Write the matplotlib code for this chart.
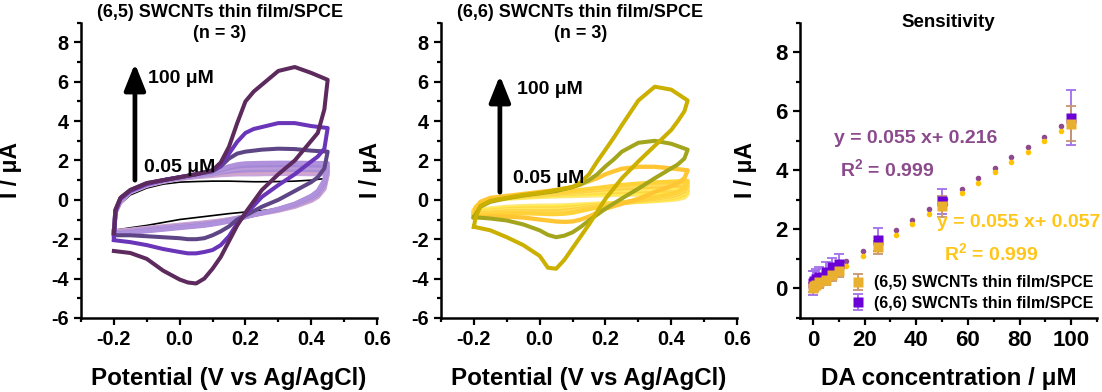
import numpy as np
import matplotlib
matplotlib.use("Agg")
import matplotlib.pyplot as plt
from matplotlib.ticker import MultipleLocator

plt.rcParams['font.family'] = ['Liberation Sans', 'DejaVu Sans']
plt.rcParams['font.weight'] = 'bold'
plt.rcParams['mathtext.fontset'] = 'custom'
plt.rcParams['mathtext.rm'] = 'Liberation Sans:bold'
plt.rcParams['mathtext.default'] = 'rm'

# potential scan: forward -0.2 -> 0.45 V, then back to -0.2 V
E_SCAN = [-0.2, -0.195, -0.18, -0.15, -0.1, -0.05, 0.0, 0.05, 0.1, 0.125, 0.15, 0.175, 0.2, 0.225, 0.25, 0.3, 0.35, 0.4, 0.45,
          0.45, 0.44, 0.42, 0.4, 0.35, 0.3, 0.25, 0.2, 0.175, 0.15, 0.125, 0.1, 0.075, 0.05, 0.025, 0.0, -0.05, -0.1, -0.15, -0.2]

# (6,5) SWCNTs, current in uA
i65_005 = [-1.55, -0.8, -0.2, 0.25, 0.6, 0.8, 0.9, 0.93, 0.95, 0.95, 0.95, 0.94, 0.93, 0.92, 0.92, 0.93, 0.95, 1.0, 1.1,
           1.1, 0.6, 0.2, 0.0, -0.3, -0.45, -0.55, -0.62, -0.66, -0.7, -0.75, -0.8, -0.85, -0.9, -0.95, -1.0, -1.15, -1.3, -1.42, -1.55]
i65_05 = [-1.60, -0.65, -0.10, 0.38, 0.72, 0.92, 1.06, 1.16, 1.22, 1.26, 1.28, 1.30, 1.30, 1.30, 1.31, 1.32, 1.32, 1.31, 1.30,
          1.30, 0.55, 0.15, -0.05, -0.35, -0.55, -0.70, -0.85, -0.92, -0.99, -1.05, -1.10, -1.15, -1.19, -1.23, -1.27, -1.35, -1.43, -1.52, -1.60]
i65_1 = [-1.62, -0.62, -0.08, 0.40, 0.74, 0.94, 1.08, 1.18, 1.26, 1.32, 1.36, 1.39, 1.40, 1.41, 1.42, 1.43, 1.43, 1.42, 1.40,
         1.40, 0.62, 0.20, 0.0, -0.32, -0.52, -0.68, -0.84, -0.92, -1.00, -1.07, -1.13, -1.18, -1.22, -1.26, -1.30, -1.38, -1.46, -1.55, -1.62]
i65_25 = [-1.64, -0.60, -0.06, 0.42, 0.76, 0.96, 1.10, 1.20, 1.30, 1.38, 1.44, 1.48, 1.50, 1.51, 1.52, 1.53, 1.53, 1.52, 1.50,
          1.50, 0.70, 0.25, 0.05, -0.28, -0.50, -0.67, -0.84, -0.93, -1.02, -1.10, -1.16, -1.21, -1.25, -1.29, -1.33, -1.41, -1.49, -1.58, -1.66]
i65_5 = [-1.66, -0.58, -0.04, 0.43, 0.77, 0.97, 1.11, 1.22, 1.34, 1.44, 1.53, 1.59, 1.62, 1.63, 1.64, 1.65, 1.65, 1.64, 1.62,
         1.62, 0.80, 0.32, 0.10, -0.25, -0.48, -0.66, -0.84, -0.94, -1.04, -1.12, -1.19, -1.24, -1.28, -1.32, -1.36, -1.44, -1.52, -1.61, -1.68]
i65_75 = [-1.68, -0.56, -0.02, 0.44, 0.78, 0.98, 1.12, 1.24, 1.38, 1.50, 1.62, 1.70, 1.74, 1.75, 1.76, 1.77, 1.77, 1.76, 1.74,
          1.74, 0.90, 0.38, 0.15, -0.22, -0.47, -0.66, -0.86, -0.97, -1.07, -1.15, -1.22, -1.28, -1.32, -1.36, -1.40, -1.48, -1.56, -1.65, -1.72]
i65_10 = [-1.70, -0.54, 0.0, 0.45, 0.79, 0.99, 1.13, 1.26, 1.42, 1.56, 1.70, 1.80, 1.85, 1.86, 1.87, 1.88, 1.88, 1.87, 1.86,
          1.86, 1.00, 0.45, 0.20, -0.20, -0.46, -0.67, -0.88, -0.99, -1.10, -1.18, -1.25, -1.31, -1.35, -1.39, -1.43, -1.51, -1.59, -1.68, -1.76]
i65_25uM = [-1.9, -0.5, 0.1, 0.5, 0.85, 1.0, 1.15, 1.3, 1.45, 1.7, 2.1, 2.35, 2.45, 2.5, 2.55, 2.6, 2.58, 2.5, 2.45,
            2.45, 1.6, 1.15, 0.9, 0.45, 0.0, -0.35, -0.8, -1.0, -1.35, -1.6, -1.8, -1.95, -2.0, -2.0, -1.95, -1.9, -1.85, -1.8, -1.8]
i65_50uM = [-2.0, -0.6, 0.05, 0.45, 0.8, 1.0, 1.15, 1.3, 1.5, 1.75, 2.35, 2.95, 3.4, 3.6, 3.7, 3.9, 3.9, 3.75, 3.65,
            3.65, 2.6, 2.2, 1.95, 1.3, 0.75, 0.15, -0.75, -1.2, -1.85, -2.3, -2.55, -2.65, -2.72, -2.72, -2.65, -2.5, -2.3, -2.15, -2.05]
i65_100uM = [-1.7, -0.5, 0.1, 0.5, 0.85, 1.0, 1.15, 1.3, 1.5, 1.9, 2.7, 3.9, 5.0, 5.5, 5.85, 6.55, 6.75, 6.45, 6.1,
             6.1, 4.6, 3.4, 3.0, 2.0, 1.3, 0.5, -0.65, -1.3, -2.1, -2.9, -3.5, -4.0, -4.25, -4.2, -4.05, -3.6, -3.0, -2.7, -2.6]

# (6,6) SWCNTs, current in uA
i66_005 = [-0.55, -0.35, -0.15, -0.02, 0.06, 0.11, 0.15, 0.18, 0.20, 0.21, 0.22, 0.23, 0.24, 0.25, 0.26, 0.27, 0.28, 0.29, 0.30,
           0.30, 0.12, 0.04, 0.0, -0.06, -0.10, -0.14, -0.18, -0.20, -0.22, -0.24, -0.26, -0.28, -0.29, -0.30, -0.30, -0.32, -0.36, -0.44, -0.55]
i66_05 = [-0.60, -0.38, -0.15, -0.01, 0.08, 0.14, 0.19, 0.23, 0.26, 0.28, 0.29, 0.30, 0.31, 0.32, 0.33, 0.35, 0.37, 0.39, 0.40,
          0.40, 0.20, 0.10, 0.05, -0.03, -0.09, -0.15, -0.20, -0.23, -0.26, -0.29, -0.32, -0.34, -0.36, -0.37, -0.37, -0.39, -0.43, -0.50, -0.60]
i66_1 = [-0.64, -0.40, -0.15, 0.0, 0.10, 0.17, 0.22, 0.27, 0.31, 0.33, 0.35, 0.37, 0.38, 0.40, 0.41, 0.44, 0.46, 0.48, 0.50,
         0.50, 0.27, 0.15, 0.09, 0.0, -0.07, -0.15, -0.22, -0.26, -0.30, -0.34, -0.38, -0.41, -0.43, -0.44, -0.44, -0.45, -0.48, -0.55, -0.64]
i66_25 = [-0.68, -0.42, -0.15, 0.01, 0.12, 0.19, 0.25, 0.30, 0.35, 0.38, 0.41, 0.44, 0.46, 0.48, 0.50, 0.54, 0.57, 0.60, 0.62,
          0.62, 0.35, 0.21, 0.14, 0.03, -0.06, -0.15, -0.25, -0.30, -0.35, -0.40, -0.45, -0.49, -0.51, -0.52, -0.52, -0.52, -0.54, -0.60, -0.68]
i66_5 = [-0.72, -0.44, -0.15, 0.02, 0.14, 0.21, 0.27, 0.33, 0.39, 0.43, 0.47, 0.51, 0.54, 0.57, 0.60, 0.64, 0.68, 0.72, 0.74,
         0.74, 0.44, 0.28, 0.19, 0.07, -0.04, -0.15, -0.27, -0.33, -0.39, -0.45, -0.51, -0.56, -0.59, -0.60, -0.60, -0.59, -0.60, -0.65, -0.72]
i66_75 = [-0.76, -0.45, -0.15, 0.03, 0.15, 0.23, 0.29, 0.35, 0.42, 0.47, 0.52, 0.56, 0.60, 0.64, 0.68, 0.73, 0.78, 0.82, 0.85,
          0.85, 0.52, 0.34, 0.24, 0.10, -0.02, -0.15, -0.29, -0.36, -0.43, -0.50, -0.57, -0.63, -0.66, -0.67, -0.66, -0.64, -0.64, -0.69, -0.76]
i66_10 = [-0.80, -0.45, -0.15, 0.05, 0.17, 0.25, 0.32, 0.38, 0.45, 0.50, 0.55, 0.60, 0.65, 0.70, 0.75, 0.82, 0.88, 0.92, 0.95,
          0.95, 0.60, 0.40, 0.30, 0.12, -0.02, -0.15, -0.30, -0.38, -0.47, -0.56, -0.65, -0.70, -0.72, -0.72, -0.70, -0.68, -0.68, -0.72, -0.80]
i66_25uM = [-0.9, -0.5, -0.1, 0.1, 0.2, 0.3, 0.4, 0.5, 0.65, 0.78, 0.95, 1.1, 1.3, 1.45, 1.58, 1.68, 1.68, 1.6, 1.5,
            1.5, 1.1, 0.85, 0.7, 0.4, 0.05, -0.2, -0.45, -0.65, -0.85, -1.0, -1.1, -1.12, -1.1, -1.05, -1.0, -0.9, -0.85, -0.85, -0.9]
i66_50uM = [-0.88, -0.75, -0.35, -0.1, 0.08, 0.22, 0.33, 0.45, 0.65, 0.8, 1.0, 1.3, 1.7, 2.05, 2.45, 2.9, 3.0, 2.85, 2.55,
            2.55, 2.1, 1.8, 1.6, 1.1, 0.57, 0.07, -0.45, -0.75, -1.05, -1.37, -1.65, -1.82, -1.9, -1.78, -1.55, -1.25, -1.05, -0.95, -0.88]
i66_100uM = [-1.37, -0.9, -0.3, -0.05, 0.1, 0.25, 0.35, 0.5, 0.65, 0.9, 1.3, 1.95, 2.55, 3.15, 3.8, 5.05, 5.75, 5.6, 5.05,
             5.05, 4.5, 4.0, 3.55, 2.75, 1.95, 1.1, 0.05, -0.6, -1.25, -1.85, -2.45, -3.05, -3.5, -3.45, -2.85, -2.3, -1.9, -1.55, -1.37]

# sensitivity data
conc = [0.05, 0.5, 1, 2.5, 5, 7.5, 10, 25, 50, 100]
peak65 = [0.03, 0.08, 0.12, 0.2, 0.3, 0.44, 0.6, 1.4, 2.78, 5.58]
err65 = [0.15, 0.15, 0.15, 0.18, 0.2, 0.2, 0.22, 0.22, 0.35, 0.6]
peak66 = [0.18, 0.25, 0.32, 0.4, 0.55, 0.72, 0.84, 1.65, 2.95, 5.78]
err66 = [0.4, 0.35, 0.35, 0.34, 0.34, 0.31, 0.34, 0.38, 0.43, 0.93]
fit_x = [0, 6.4, 12.8, 19.2, 25.6, 32, 38.4, 44.8, 51.2, 57.6, 64, 70.4, 76.8, 83.2, 89.6, 96]
fit_purple = [0.22, 0.57, 0.92, 1.27, 1.62, 1.98, 2.33, 2.68, 3.03, 3.38, 3.74, 4.09, 4.44, 4.79, 5.14, 5.50]
fit_yellow = [0.06, 0.41, 0.76, 1.11, 1.45, 1.82, 2.17, 2.52, 2.87, 3.22, 3.58, 3.93, 4.28, 4.63, 4.98, 5.34]

fig = plt.figure(figsize=(11.02, 3.92), dpi=100)
ax1 = fig.add_axes([0.0735, 0.189, 0.2686, 0.753])
ax2 = fig.add_axes([0.4002, 0.189, 0.2686, 0.753])
ax3 = fig.add_axes([0.7260, 0.189, 0.2695, 0.753])


def style(ax, fs):
    for s in ['top', 'right']:
        ax.spines[s].set_visible(False)
    for s in ['left', 'bottom']:
        ax.spines[s].set_linewidth(1.8)
    ax.tick_params(which='major', direction='out', length=5, width=1.6, labelsize=fs, pad=4)
    ax.tick_params(which='minor', direction='out', length=3, width=1.6)
    for lab in ax.get_xticklabels() + ax.get_yticklabels():
        lab.set_fontweight('bold')


light65 = [i65_05, i65_1, i65_25, i65_5, i65_75, i65_10]
light65_c = ['#c9a6dc', '#d6a4c6', '#a98fd8', '#bb9bdb', '#a488d6', '#b091dc']
light66 = [i66_005, i66_05, i66_1, i66_25, i66_5, i66_75, i66_10]
light66_c = ['#ffe680', '#fff04a', '#ffd84a', '#ffe85c', '#ffcf40', '#ffdb58', '#ffd23a']

# blank-like 0.05 uM trace sits underneath the light band
ax1.plot(E_SCAN, i65_005, color='k', lw=1.2)

for ax, light, lc in [(ax1, light65, light65_c), (ax2, light66, light66_c)]:
    for cur, c in zip(light, lc):
        ax.plot(E_SCAN, cur, color=c, lw=3.2, solid_joinstyle='round')

ax1.plot(E_SCAN, i65_25uM, color='#5e4686', lw=2.9, solid_joinstyle='round')
ax1.plot(E_SCAN, i65_50uM, color='#6a35b8', lw=2.9, solid_joinstyle='round')
ax1.plot(E_SCAN, i65_100uM, color='#5d2a5e', lw=2.9, solid_joinstyle='round')

ax2.plot(E_SCAN, i66_25uM, color='#ffc533', lw=3.1, solid_joinstyle='round')
ax2.plot(E_SCAN, i66_50uM, color='#a3a51c', lw=2.9, solid_joinstyle='round')
ax2.plot(E_SCAN, i66_100uM, color='#cbb000', lw=2.9, solid_joinstyle='round')

titles = ['(6,5) SWCNTs thin film/SPCE\n(n = 3)', '(6,6) SWCNTs thin film/SPCE\n(n = 3)']
arrows = [(-0.136, 1.0, 6.93, -0.096, 6.17, 1.65), (-0.121, 0.39, 6.32, -0.069, 5.6, 1.09)]
for ax, t, (ax_x, y0, y1, tx, ty_hi, ty_lo) in zip([ax1, ax2], titles, arrows):
    ax.set_xlim(-0.3, 0.6)
    ax.set_ylim(-6, 9)
    ax.set_xticks([-0.2, 0.0, 0.2, 0.4, 0.6])
    ax.set_xticklabels(['-0.2', '0.0', '0.2', '0.4', '0.6'])
    ax.xaxis.set_minor_locator(MultipleLocator(0.1))
    ax.set_yticks([-6, -4, -2, 0, 2, 4, 6, 8])
    ax.set_yticklabels(['-6', '-4', '-2', '0', '2', '4', '6', '8'])
    ax.yaxis.set_minor_locator(MultipleLocator(1))
    style(ax, 14.3)
    ax.set_xlabel('Potential (V vs Ag/AgCl)', fontsize=17.4, fontweight='bold')
    ax.set_ylabel('I / μA', fontsize=16.5, fontweight='bold')
    ax.xaxis.set_label_coords(0.5, -0.165)
    ax.yaxis.set_label_coords(-0.2, 0.5)
    ax.text(0.47, 1.0, t, transform=ax.transAxes, ha='center', va='center',
            fontsize=13, fontweight='bold', linespacing=1.3)
    ax.annotate('', xy=(ax_x, y1), xytext=(ax_x, y0),
                arrowprops=dict(arrowstyle='-|>,head_length=0.8,head_width=0.32', lw=3.4,
                                color='k', mutation_scale=20, shrinkA=0, shrinkB=0))
    ax.text(tx, ty_hi, '100 μM', fontsize=14, fontweight='bold', va='center', ha='left')
    ax.text(tx - 0.012, ty_lo, '0.05 μM', fontsize=14, fontweight='bold', va='center', ha='left')

# sensitivity panel
ax3.plot(fit_x, fit_purple, 'o', color='#8e4a8e', ms=4, mec='none')
ax3.plot(fit_x, fit_yellow, 'o', color='#ffc400', ms=4, mec='none')
ax3.errorbar(conc, peak66, yerr=err66, fmt='s', color='#6a00d6', ms=6.5, mec='none',
             ecolor='#a070e8', elinewidth=1.3, capsize=3.5, capthick=1.3,
             label='(6,6) SWCNTs thin film/SPCE')
ax3.errorbar(conc, peak65, yerr=err65, fmt='s', color='#e9b030', ms=6.5, mec='none',
             ecolor='#c9956e', elinewidth=1.3, capsize=3.5, capthick=1.3,
             label='(6,5) SWCNTs thin film/SPCE')
ax3.set_xlim(-5, 110)
ax3.set_ylim(-1, 9)
ax3.set_xticks([0, 20, 40, 60, 80, 100])
ax3.xaxis.set_minor_locator(MultipleLocator(10))
ax3.set_yticks([0, 2, 4, 6, 8])
ax3.yaxis.set_minor_locator(MultipleLocator(1))
style(ax3, 16)
ax3.set_xlabel('DA concentration / μM', fontsize=17.4, fontweight='bold')
ax3.set_ylabel('I / μA', fontsize=16.5, fontweight='bold')
ax3.xaxis.set_label_coords(0.5, -0.165)
ax3.yaxis.set_label_coords(-0.145, 0.5)
ax3.text(0.5, 1.0, 'Sensitivity', transform=ax3.transAxes, ha='center', va='center',
         fontsize=13.5, fontweight='bold')
ax3.text(39.7, 5.08, 'y = 0.055 x+ 0.216', color='#8b4a8b', fontsize=14, fontweight='bold', ha='center', va='center')
ax3.text(28.8, 4.03, 'R$^2$ = 0.999', color='#8b4a8b', fontsize=14, fontweight='bold', ha='center', va='center')
ax3.text(79.8, 2.24, 'y = 0.055 x+ 0.057', color='#ffc61a', fontsize=14, fontweight='bold', ha='center', va='center')
ax3.text(68.9, 1.19, 'R$^2$ = 0.999', color='#ffc61a', fontsize=14, fontweight='bold', ha='center', va='center')

h, l = ax3.get_legend_handles_labels()
leg = ax3.legend(h[::-1], l[::-1], loc='lower right', bbox_to_anchor=(1.03, -0.02), frameon=False,
                 fontsize=11.5, handlelength=0.8, handletextpad=0.6, labelspacing=0.35, borderpad=0.3)
for txt in leg.get_texts():
    txt.set_fontweight('bold')

fig.savefig('out.png', dpi=100)
